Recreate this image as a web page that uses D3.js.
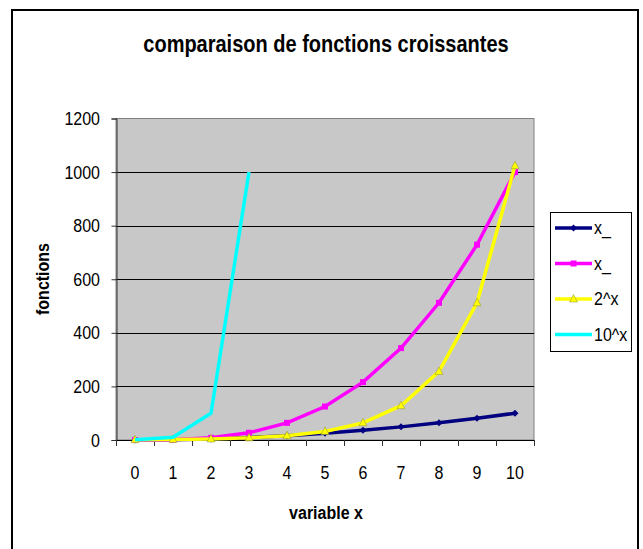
<!DOCTYPE html>
<html>
<head>
<meta charset="utf-8">
<script src="https://cdn.jsdelivr.net/npm/d3@7"></script>
<style>
html,body{margin:0;padding:0;background:#fff;}
text{font-family:"Liberation Sans",Arial,sans-serif;fill:#000;}
</style>
</head>
<body>
<svg id="chart" width="643" height="549"></svg>
<script>
const categories = [0,1,2,3,4,5,6,7,8,9,10];
const seriesNames = ["x_","x_","2^x","10^x"];
const seriesColors = ["#000080","#FF00FF","#FFFF00","#00FFFF"];
const xSquared = [0,1,4,9,16,25,36,49,64,81,100];
const xCubed = [0,1,8,27,64,125,216,343,512,729,1000];
const pow2 = [1,2,4,8,16,32,64,128,256,512,1024];
const pow10 = [1,10,100,1000];
const yTicks = [0,200,400,600,800,1000,1200];
const titleText = "comparaison de fonctions croissantes";
const xTitle = "variable x";
const yTitle = "fonctions";

const seriesData = [xSquared, xCubed, pow2, pow10];
const markerTypes = ["diamond","square","triangle","none"];

const svg = d3.select("#chart");
const SY = 1.16; // vertical stretch of text seen in the reference

function txt(x, y, s, o) {
  o = o || {};
  return svg.append("text")
    .attr("transform", `translate(${x},${y}) ${o.rotate ? "rotate(" + o.rotate + ")" : ""} scale(${o.sx||1},${o.sy||SY})`)
    .attr("text-anchor", o.anchor || "start")
    .attr("font-size", o.size || 16)
    .attr("font-weight", o.bold ? "bold" : "normal")
    .text(s);
}

// outer border (bottom edge lies outside the picture, as in the reference)
svg.append("rect").attr("x", 12).attr("y", 10).attr("width", 626).attr("height", 560)
  .attr("fill", "#fff").attr("stroke", "#000").attr("stroke-width", 2);

const L = 116, R = 534, T = 118.5, B = 440;
const x = d3.scaleBand().domain(categories).range([L, R]).padding(0);
const y = d3.scaleLinear().domain([0, 1200]).range([B, T]);
const cx = d => x(d) + x.bandwidth() / 2;

// plot area
svg.append("rect").attr("x", L).attr("y", T).attr("width", R - L).attr("height", B - T)
  .attr("fill", "#C8C8C8").attr("stroke", "#808080").attr("stroke-width", 1);

// gridlines
svg.append("g").selectAll("line").data(yTicks.filter(v => v > 0 && v < 1200)).join("line")
  .attr("x1", L).attr("x2", R).attr("y1", d => Math.round(y(d)) + 0.5).attr("y2", d => Math.round(y(d)) + 0.5)
  .attr("stroke", "#000").attr("stroke-width", 1);

// y axis
const yAxis = svg.append("g").attr("transform", `translate(${L + 0.5},0)`)
  .call(d3.axisLeft(y).tickValues(yTicks).tickSize(5).tickFormat(""));
yAxis.select(".domain").attr("stroke", "#333");
yAxis.selectAll(".tick line").attr("stroke", "#333");
yTicks.forEach(v => txt(100, y(v) + 6.5, String(v), {anchor: "end", size: 16}));

// x axis: ticks between categories
const bounds = categories.map(c => x(c)).concat([R]);
svg.append("line").attr("x1", L).attr("x2", R).attr("y1", B + 0.5).attr("y2", B + 0.5).attr("stroke", "#000");
svg.append("g").selectAll("line").data(bounds).join("line")
  .attr("x1", d => Math.round(d) + 0.5).attr("x2", d => Math.round(d) + 0.5)
  .attr("y1", B).attr("y2", B + 6).attr("stroke", "#333");
categories.forEach(c => txt(cx(c), 479, String(c), {anchor: "middle", size: 16}));

// series
const line = d3.line().x((d, i) => cx(categories[i])).y(d => y(d));
function marker(g, type, px, py, color) {
  if (type === "diamond") {
    g.append("path").attr("d", `M${px},${py-3.5}L${px+3.5},${py}L${px},${py+3.5}L${px-3.5},${py}Z`).attr("fill", color);
  } else if (type === "square") {
    g.append("rect").attr("x", px - 3).attr("y", py - 3).attr("width", 6).attr("height", 6).attr("fill", color);
  } else if (type === "triangle") {
    g.append("path").attr("d", `M${px},${py-4.5}L${px+4},${py+3}L${px-4},${py+3}Z`)
      .attr("fill", color).attr("stroke", "#8a8a40").attr("stroke-width", 0.5);
  }
}
seriesData.forEach((vals, si) => {
  const g = svg.append("g");
  g.append("path").datum(vals).attr("d", line).attr("fill", "none")
    .attr("stroke", seriesColors[si]).attr("stroke-width", 3.5).attr("stroke-linejoin", "miter");
  vals.forEach((v, i) => marker(g, markerTypes[si], cx(categories[i]), y(v), seriesColors[si]));
});

// titles
txt(326, 52, titleText, {anchor: "middle", size: 20, bold: true});
txt(326, 519, xTitle, {anchor: "middle", size: 16, bold: true});
txt(49, 279, yTitle, {anchor: "middle", size: 16, bold: true, rotate: -90});

// legend
svg.append("rect").attr("x", 550.5).attr("y", 212.5).attr("width", 81).attr("height", 139)
  .attr("fill", "#fff").attr("stroke", "#000").attr("stroke-width", 1);
const legY = [228, 263.5, 299, 334.5];
seriesNames.forEach((n, i) => {
  const g = svg.append("g");
  g.append("line").attr("x1", 555).attr("x2", 592).attr("y1", legY[i]).attr("y2", legY[i])
    .attr("stroke", seriesColors[i]).attr("stroke-width", 3.5);
  marker(g, markerTypes[i], 573.5, legY[i], seriesColors[i]);
  txt(594, legY[i] + 6, n, {size: 16});
});
</script>
</body>
</html>
